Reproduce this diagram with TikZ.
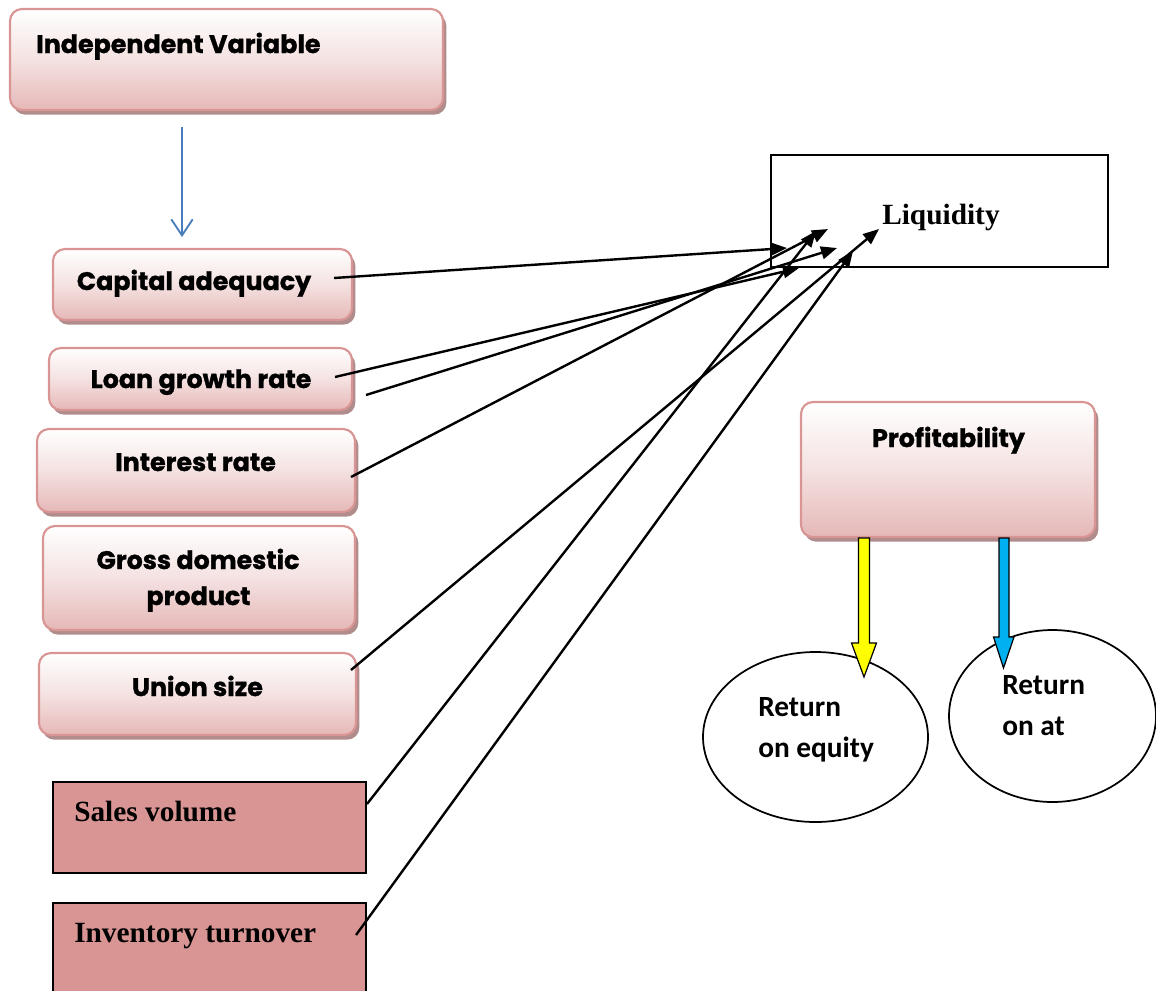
\documentclass[tikz,border=0pt]{standalone}
\usepackage{fontspec}
\setmainfont{Liberation Serif}
\newfontfamily\popp{Poppins}[BoldFeatures={FakeBold=1.2}]
\newfontfamily\carl{Carlito}
\usetikzlibrary{arrows.meta,shadows,shapes.geometric}
\definecolor{pinkB}{HTML}{E5B8B7}
\definecolor{pinkM}{HTML}{F4E2E1}
\definecolor{pinkE}{HTML}{D99594}
\definecolor{shadowc}{HTML}{B08C8C}
\definecolor{salmon}{HTML}{D99594}
\definecolor{arrblue}{HTML}{4A7EBB}
\definecolor{yel}{HTML}{FFFF00}
\definecolor{cyanb}{HTML}{00B0F0}
\begin{document}
\begin{tikzpicture}[x=0.75pt,y=-0.75pt,
  rbox/.style={draw=pinkE, line width=1.6pt, rounded corners=9pt, inner sep=0pt,
    top color=white, bottom color=pinkB, middle color=pinkM,
    drop shadow={shadow xshift=2.5pt,shadow yshift=-3.5pt,fill=shadowc,opacity=1}},
  sbox/.style={draw=black, line width=1pt, fill=salmon, inner sep=0pt},
  wbox/.style={draw=black, line width=1pt, fill=white, inner sep=0pt},
  oval/.style={ellipse, draw=black, line width=1.3pt, fill=white, inner sep=0pt},
  ptxt/.style={font=\popp\bfseries\fontsize{19}{23}\selectfont, inner sep=0pt},
  ttxt/.style={font=\bfseries\fontsize{22}{26}\selectfont, inner sep=0pt},
  ctxt/.style={font=\carl\bfseries\fontsize{22}{26}\selectfont, inner sep=0pt},
  conn/.style={line width=1.8pt, -{Triangle[length=12pt,width=9.5pt]}},
  bconn/.style={draw=arrblue, line width=1.4pt, -{Straight Barb[length=12pt,width=16pt,line width=1.4pt]}},
  blockarr/.style={draw=black, line width=0.9pt, line join=miter}
]
\useasboundingbox (0,0) rectangle (1156,990);

% boxes
\node[rbox, minimum width=324.75pt, minimum height=75.75pt] (iv) at (226.5,59.5) {};
\node[rbox, minimum width=224.25pt, minimum height=53.25pt] (cap) at (202.5,284.5) {};
\node[rbox, minimum width=227.25pt, minimum height=46.5pt] (loan) at (200.5,379) {};
\node[rbox, minimum width=238.5pt, minimum height=62.25pt] (int) at (196,470.5) {};
\node[rbox, minimum width=234pt, minimum height=78pt] (gdp) at (199,578) {};
\node[rbox, minimum width=237.75pt, minimum height=61.5pt] (uni) at (197.5,694) {};
\node[rbox, minimum width=220.5pt, minimum height=101.25pt] (prof) at (948,469.5) {};
\node[sbox, minimum width=234.75pt, minimum height=68.25pt] (sales) at (209.5,827.5) {};
\node[sbox, minimum width=234.75pt, minimum height=72.75pt] (inv) at (209.5,951.5) {};
\node[wbox, minimum width=252.75pt, minimum height=84pt] (liq) at (939.5,211) {};
\node[oval, minimum width=168.75pt, minimum height=127.5pt] (roe) at (815.5,737) {};
\node[oval, minimum width=155.25pt, minimum height=129pt] (roa) at (1052.5,716) {};

% texts
\node[ptxt, anchor=base west] (ivt) at (36,53) {Independent Variable};
\node[ptxt, anchor=base] (capt) at (194,290) {Capital adequacy};
\node[ptxt, anchor=base] (loant) at (201,388) {Loan growth rate};
\node[ptxt, anchor=base] (intt) at (195.5,471) {Interest rate};
\node[ptxt, anchor=base] (gdpt1) at (198,569) {Gross domestic};
\node[ptxt, anchor=base] (gdpt2) at (198.5,605) {product};
\node[ptxt, anchor=base] (unit) at (197.5,696) {Union size};
\node[ptxt, anchor=base] (proft) at (948.5,447) {Profitability};
\node[ttxt, anchor=base west] (salest) at (74,821) {Sales volume};
\node[ttxt, anchor=base west] (invt) at (74,942) {Inventory turnover};
\node[ttxt, anchor=base west] (liqt) at (882,224) {Liquidity};
\node[ctxt, anchor=base west] (roet1) at (758,716) {Return};
\node[ctxt, anchor=base west] (roet2) at (758,757) {on equity};
\node[ctxt, anchor=base west] (roat1) at (1002,694) {Return};
\node[ctxt, anchor=base west] (roat2) at (1002,735) {on at};

% blue connector
\coordinate (ivs) at (182,127);
\coordinate (capn) at (182,237);
\draw[bconn] (ivs) -- (capn);

% connector ends
\coordinate (s1) at (334,278);
\coordinate (s2) at (335,377);
\coordinate (s3) at (366,395);
\coordinate (s4) at (351,477);
\coordinate (s5) at (351,670);
\coordinate (s6) at (367,804);
\coordinate (s7) at (356,935);
\coordinate (t1) at (787,248);
\coordinate (t2) at (799,268);
\coordinate (t3) at (837,248);
\coordinate (t4) at (828,229);
\coordinate (t5) at (879,229);
\coordinate (t6) at (816,231);
\coordinate (t7) at (853,251);
\draw[conn] (s1) -- (t1);
\draw[conn] (s2) -- (t2);
\draw[conn] (s3) -- (t3);
\draw[conn] (s4) -- (t4);
\draw[conn] (s5) -- (t5);
\draw[conn] (s6) -- (t6);
\draw[conn] (s7) -- (t7);

% block arrows
\coordinate (ya) at (864,538);
\coordinate (ba) at (1004,538);
\draw[blockarr, fill=yel] (ya) ++(-5.5,0) -- ++(11,0) -- ++(0,105) -- ++(7,0) -- ++(-12.5,34) -- ++(-12.5,-34) -- ++(7,0) -- cycle;
\draw[blockarr, fill=cyanb] (ba) ++(-5,0) -- ++(10,0) -- ++(0,99) -- ++(5,0) -- ++(-10.5,31) -- ++(-10,-31) -- ++(5.5,0) -- cycle;
\end{tikzpicture}
\end{document}
